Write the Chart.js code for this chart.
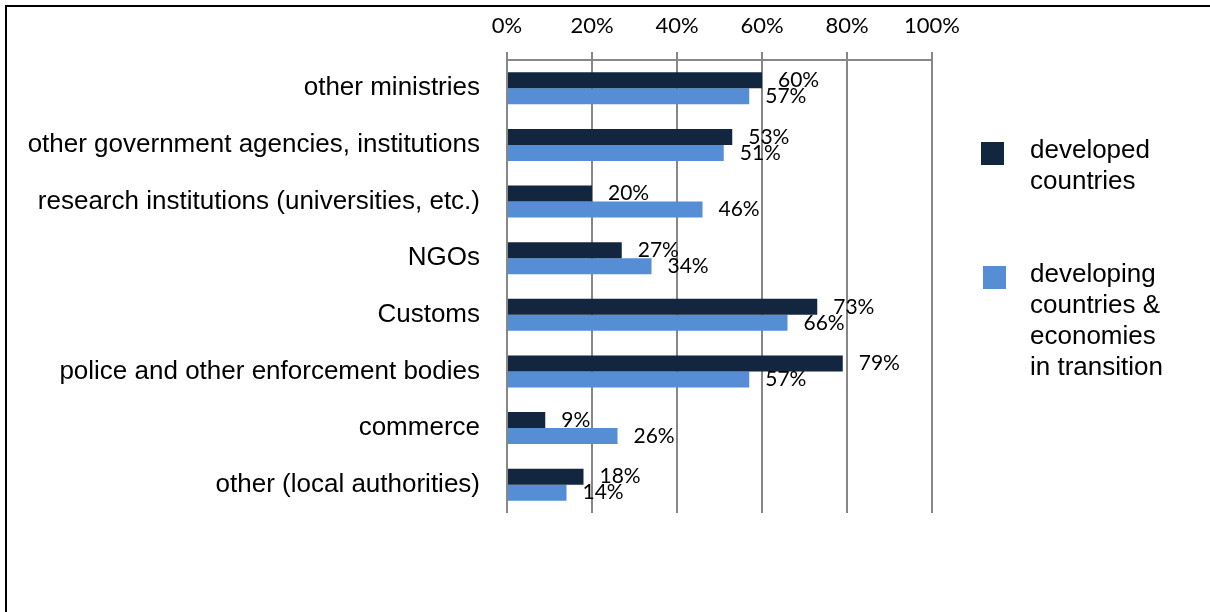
<!DOCTYPE html>
<html>
<head>
<meta charset="utf-8">
<script src="https://cdn.jsdelivr.net/npm/chart.js@4"></script>
<style>
  body { margin: 0; background: #fff; }
  #wrap { position: relative; width: 1210px; height: 612px; overflow: hidden; }
  #frame { position: absolute; left: 5px; top: 5px; right: -10px; bottom: -10px;
           border-top: 2px solid #000; border-left: 2px solid #000; }
  #chart { position: absolute; left: 0; top: 0; }
  .legend-item { position: absolute; left: 981px; font-family: "Liberation Sans", Arial, sans-serif;
                 font-size: 26px; line-height: 31px; color: #000; }
  .legend-item .box { position: absolute; left: 0; width: 23px; height: 23px; }
  .legend-item .text { position: absolute; left: 49px; white-space: nowrap; }
</style>
</head>
<body>
<div id="wrap">
  <div id="frame"></div>
  <canvas id="chart" width="1210" height="612"></canvas>
  <div id="legend"></div>
</div>
<script>
const categories = [
  "other ministries",
  "other government agencies, institutions",
  "research institutions (universities, etc.)",
  "NGOs",
  "Customs",
  "police and other enforcement bodies",
  "commerce",
  "other (local authorities)"
];
const developed = [60, 53, 20, 27, 73, 79, 9, 18];
const developing = [57, 51, 46, 34, 66, 57, 26, 14];
const seriesNames = [
  ["developed", "countries"],
  ["developing", "countries &", "economies", "in transition"]
];
const seriesColors = ["#132640", "#558ED5"];
const xTicks = [0, 20, 40, 60, 80, 100];

// value labels to the right of each bar
const valueLabels = {
  id: "valueLabels",
  afterDatasetsDraw(chart) {
    const ctx = chart.ctx;
    ctx.save();
    ctx.font = "21px Lato";
    ctx.fillStyle = "#000";
    ctx.textAlign = "left";
    ctx.textBaseline = "middle";
    chart.data.datasets.forEach((ds, i) => {
      chart.getDatasetMeta(i).data.forEach((bar, j) => {
        ctx.fillText(ds.data[j] + "%", bar.x + 16, bar.y);
      });
    });
    ctx.restore();
  }
};

new Chart(document.getElementById("chart"), {
  type: "bar",
  data: {
    labels: categories,
    datasets: [
      {
        label: seriesNames[0].join(" "),
        data: developed,
        backgroundColor: seriesColors[0]
      },
      {
        label: seriesNames[1].join(" "),
        data: developing,
        backgroundColor: seriesColors[1]
      }
    ]
  },
  options: {
    indexAxis: "y",
    responsive: false,
    animation: false,
    layout: { padding: { left: 0, right: 278, top: 0, bottom: 99 } },
    datasets: { bar: { categoryPercentage: 0.566, barPercentage: 1 } },
    plugins: {
      legend: { display: false },
      tooltip: { enabled: false }
    },
    scales: {
      x: {
        position: "top",
        min: 0,
        max: 100,
        afterBuildTicks: (scale) => {
          scale.ticks = xTicks.map(v => ({ value: v }));
        },
        afterFit: (scale) => { scale.height = 60; },
        ticks: {
          callback: (v) => v + "%",
          color: "#000",
          font: { family: "Lato", size: 22 },
          padding: 13
        },
        grid: { color: "#878787", lineWidth: 2, tickLength: 8 },
        border: { color: "#878787", width: 2 }
      },
      y: {
        afterFit: (scale) => { scale.width = 507; },
        ticks: {
          color: "#000",
          font: { family: "Liberation Sans", size: 26 },
          padding: 27
        },
        grid: { display: false, drawTicks: false },
        border: { display: false }
      }
    }
  },
  plugins: [valueLabels]
});

// legend built from the series arrays
const legend = document.getElementById("legend");
const legendTops = [134, 258];
seriesNames.forEach((lines, i) => {
  const item = document.createElement("div");
  item.className = "legend-item";
  item.style.top = legendTops[i] + "px";
  const box = document.createElement("div");
  box.className = "box";
  box.style.background = seriesColors[i];
  box.style.top = "8px";
  box.style.left = (i === 0 ? 0 : 2) + "px";
  const text = document.createElement("div");
  text.className = "text";
  text.innerHTML = lines.join("<br>");
  item.appendChild(box);
  item.appendChild(text);
  legend.appendChild(item);
});
</script>
</body>
</html>
